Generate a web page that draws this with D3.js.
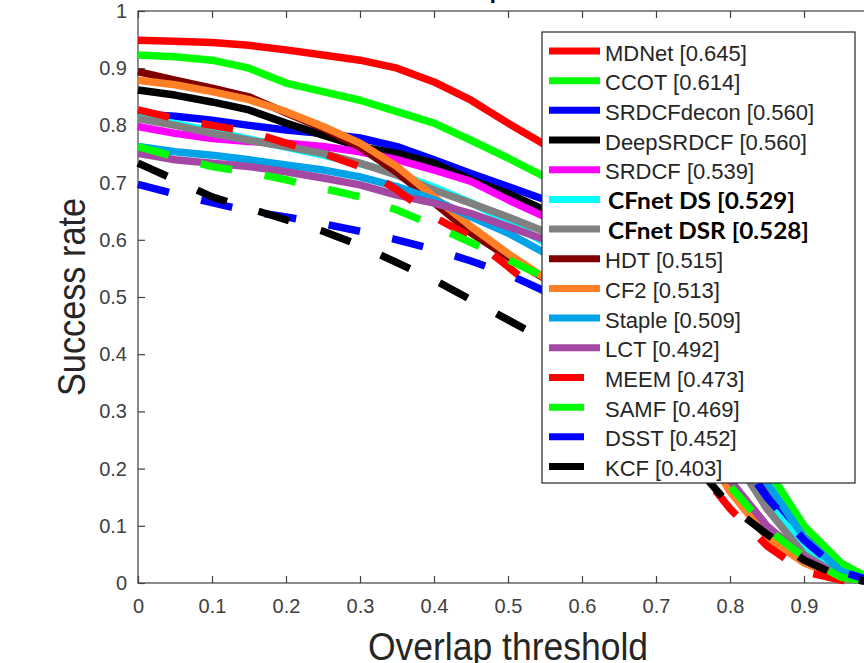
<!DOCTYPE html>
<html>
<head>
<meta charset="utf-8">
<script src="https://cdn.jsdelivr.net/npm/d3@7"></script>
<style>
  body { margin: 0; background: #fff; }
  svg { display: block; }
</style>
</head>
<body>
<svg id="chart" width="864" height="663"></svg>
<script>
// Overlap thresholds (x values)
const thresholds = [0, 0.05, 0.1, 0.15, 0.2, 0.25, 0.3, 0.35, 0.4, 0.45, 0.5,
                    0.55, 0.6, 0.65, 0.7, 0.75, 0.8, 0.85, 0.9, 0.95, 1];
const xTicks = [0, 0.1, 0.2, 0.3, 0.4, 0.5, 0.6, 0.7, 0.8, 0.9, 1];
const yTicks = [0, 0.1, 0.2, 0.3, 0.4, 0.5, 0.6, 0.7, 0.8, 0.9, 1];

// Success rate per tracker
const mdnet      = [0.949, 0.947, 0.945, 0.940, 0.932, 0.923, 0.914, 0.900, 0.876, 0.844, 0.804, 0.766, 0.700, 0.620, 0.510, 0.380, 0.270, 0.170, 0.080, 0.030, 0];
const ccot       = [0.923, 0.920, 0.914, 0.900, 0.874, 0.859, 0.844, 0.824, 0.804, 0.774, 0.743, 0.710, 0.665, 0.600, 0.510, 0.400, 0.290, 0.200, 0.100, 0.035, 0];
const srdcfdecon = [0.820, 0.816, 0.809, 0.800, 0.792, 0.786, 0.778, 0.763, 0.740, 0.716, 0.693, 0.670, 0.640, 0.580, 0.490, 0.380, 0.250, 0.150, 0.070, 0.020, 0];
const deepsrdcf  = [0.862, 0.853, 0.841, 0.827, 0.804, 0.783, 0.763, 0.751, 0.734, 0.705, 0.681, 0.652, 0.620, 0.570, 0.480, 0.370, 0.250, 0.140, 0.060, 0.015, 0];
const srdcf      = [0.798, 0.786, 0.777, 0.772, 0.769, 0.763, 0.754, 0.740, 0.722, 0.702, 0.670, 0.640, 0.600, 0.550, 0.470, 0.370, 0.240, 0.130, 0.055, 0.015, 0];
const cfnetDS    = [0.816, 0.803, 0.790, 0.776, 0.762, 0.748, 0.733, 0.716, 0.692, 0.665, 0.632, 0.595, 0.560, 0.520, 0.460, 0.370, 0.250, 0.140, 0.065, 0.020, 0];
const cfnetDSR   = [0.812, 0.800, 0.786, 0.774, 0.763, 0.751, 0.734, 0.713, 0.687, 0.664, 0.640, 0.614, 0.580, 0.530, 0.460, 0.360, 0.230, 0.130, 0.050, 0.010, 0];
const hdt        = [0.894, 0.879, 0.865, 0.850, 0.822, 0.795, 0.762, 0.718, 0.665, 0.612, 0.570, 0.532, 0.480, 0.430, 0.360, 0.270, 0.170, 0.090, 0.040, 0.010, 0];
const cf2        = [0.879, 0.871, 0.859, 0.845, 0.824, 0.798, 0.769, 0.728, 0.675, 0.623, 0.576, 0.533, 0.480, 0.430, 0.360, 0.270, 0.160, 0.080, 0.035, 0.010, 0];
const staple     = [0.763, 0.754, 0.748, 0.740, 0.731, 0.722, 0.710, 0.693, 0.670, 0.640, 0.612, 0.577, 0.540, 0.500, 0.440, 0.360, 0.260, 0.175, 0.080, 0.020, 0];
const lct        = [0.751, 0.740, 0.734, 0.728, 0.719, 0.708, 0.696, 0.678, 0.664, 0.646, 0.623, 0.600, 0.560, 0.500, 0.410, 0.300, 0.180, 0.100, 0.045, 0.010, 0];
const meem       = [0.827, 0.812, 0.800, 0.789, 0.769, 0.751, 0.728, 0.687, 0.640, 0.605, 0.553, 0.500, 0.440, 0.370, 0.290, 0.210, 0.130, 0.065, 0.020, 0.005, 0];
const samf       = [0.763, 0.745, 0.728, 0.718, 0.705, 0.690, 0.675, 0.652, 0.625, 0.595, 0.565, 0.535, 0.500, 0.450, 0.370, 0.270, 0.170, 0.095, 0.045, 0.010, 0];
const dsst       = [0.697, 0.680, 0.665, 0.650, 0.640, 0.628, 0.615, 0.600, 0.583, 0.563, 0.540, 0.510, 0.480, 0.450, 0.400, 0.330, 0.240, 0.150, 0.075, 0.020, 0];
const kcf        = [0.734, 0.705, 0.675, 0.655, 0.635, 0.615, 0.590, 0.560, 0.530, 0.495, 0.460, 0.425, 0.380, 0.330, 0.270, 0.210, 0.135, 0.085, 0.040, 0.010, 0];

const names  = ["MDNet", "CCOT", "SRDCFdecon", "DeepSRDCF", "SRDCF", "CFnet DS", "CFnet DSR",
                "HDT", "CF2", "Staple", "LCT", "MEEM", "SAMF", "DSST", "KCF"];
const scores = ["0.645", "0.614", "0.560", "0.560", "0.539", "0.529", "0.528",
                "0.515", "0.513", "0.509", "0.492", "0.473", "0.469", "0.452", "0.403"];
const values = [mdnet, ccot, srdcfdecon, deepsrdcf, srdcf, cfnetDS, cfnetDSR,
                hdt, cf2, staple, lct, meem, samf, dsst, kcf];
const colors = ["#ff0000", "#00ff00", "#0000ff", "#000000", "#ff00ff", "#00ffff", "#808080",
                "#800000", "#ff7f27", "#00a2e8", "#a349a4", "#ff0000", "#00ff00", "#0000ff", "#000000"];
const dashed = [false, false, false, false, false, false, false,
                false, false, false, false, true, true, true, true];
// the two CFnet entries are written in a different bold font
const boldWidth = [0, 0, 0, 0, 0, 187, 201, 0, 0, 0, 0, 0, 0, 0, 0];

const series = names.map((n, i) => ({
  name: n, score: scores[i], color: colors[i], dashed: dashed[i], boldWidth: boldWidth[i],
  points: thresholds.map((t, j) => ({ t: t, v: values[i][j] }))
}));

const svg = d3.select("#chart");
const axisColor = "#404040";

const x = d3.scaleLinear().domain([0, 1]).range([138, 878]);
const y = d3.scaleLinear().domain([0, 1]).range([583, 11]);

// Title (mostly above the visible area)
svg.append("text")
  .attr("x", (x(0) + x(1)) / 2)
  .attr("y", -2)
  .attr("text-anchor", "middle")
  .attr("font-family", "Liberation Sans, Arial, sans-serif")
  .attr("font-weight", "bold")
  .attr("font-size", 22)
  .attr("fill", "#000")
  .text("Success plots of OPE");

// Axes
const fmt = d => d3.format("~g")(d);

const gx = svg.append("g")
  .attr("transform", `translate(0,${y(0)})`)
  .call(d3.axisBottom(x).tickValues(xTicks).tickFormat(fmt).tickSizeInner(-7).tickSizeOuter(0).tickPadding(16));

const gxTop = svg.append("g")
  .attr("transform", `translate(0,${y(1)})`)
  .call(d3.axisTop(x).tickValues(xTicks).tickFormat("").tickSizeInner(-7).tickSizeOuter(0));

const gy = svg.append("g")
  .attr("transform", `translate(${x(0)},0)`)
  .call(d3.axisLeft(y).tickValues(yTicks).tickFormat(fmt).tickSizeInner(-7).tickSizeOuter(0).tickPadding(11));

[gx, gxTop, gy].forEach(g => {
  g.select(".domain").remove();
  g.selectAll(".tick line").attr("stroke", axisColor).attr("stroke-width", 1.2);
  g.selectAll(".tick text")
    .attr("fill", axisColor)
    .attr("font-family", "Liberation Sans, Arial, sans-serif")
    .attr("font-size", 20);
});

// Axes box
svg.append("rect")
  .attr("x", x(0))
  .attr("y", y(1))
  .attr("width", x(1) - x(0))
  .attr("height", y(0) - y(1))
  .attr("fill", "none")
  .attr("stroke", axisColor)
  .attr("stroke-width", 1.2);

// Axis labels
svg.append("text")
  .attr("x", (x(0) + x(1)) / 2)
  .attr("y", 660)
  .attr("text-anchor", "middle")
  .attr("font-family", "Liberation Sans, Arial, sans-serif")
  .attr("font-size", 38)
  .attr("textLength", 280)
  .attr("lengthAdjust", "spacingAndGlyphs")
  .attr("fill", "#262626")
  .text("Overlap threshold");

svg.append("text")
  .attr("transform", `translate(85,${(y(0) + y(1)) / 2}) rotate(-90)`)
  .attr("text-anchor", "middle")
  .attr("font-family", "Liberation Sans, Arial, sans-serif")
  .attr("font-size", 38)
  .attr("textLength", 198)
  .attr("lengthAdjust", "spacingAndGlyphs")
  .attr("fill", "#262626")
  .text("Success rate");

// Curves, legend order (later ones on top)
const line = d3.line()
  .x(d => x(d.t))
  .y(d => y(d.v));

svg.append("g")
  .selectAll("path")
  .data(series)
  .join("path")
  .attr("d", d => line(d.points))
  .attr("fill", "none")
  .attr("stroke", d => d.color)
  .attr("stroke-width", 7.5)
  .attr("stroke-linejoin", "round")
  .attr("stroke-dasharray", d => d.dashed ? "32,33" : null);

// Legend
const legend = svg.append("g").attr("class", "legend");

legend.append("rect")
  .attr("x", 542)
  .attr("y", 32)
  .attr("width", 313)
  .attr("height", 451)
  .attr("fill", "#fff")
  .attr("stroke", "#262626")
  .attr("stroke-width", 1.2);

const rowY = i => 52.5 + i * 29.68;

const item = legend.selectAll("g.item")
  .data(series)
  .join("g")
  .attr("class", "item");

item.append("line")
  .attr("x1", 549)
  .attr("x2", d => d.dashed ? 584 : 600)
  .attr("y1", (d, i) => rowY(i) - 1.5)
  .attr("y2", (d, i) => rowY(i) - 1.5)
  .attr("stroke", d => d.color)
  .attr("stroke-width", 7);

item.append("text")
  .attr("x", d => d.boldWidth ? 608 : 605)
  .attr("y", (d, i) => rowY(i) + 8)
  .attr("font-family", d => d.boldWidth ? "Lato, sans-serif" : "Liberation Sans, Arial, sans-serif")
  .attr("font-weight", d => d.boldWidth ? "bold" : "normal")
  .attr("font-size", 22)
  .attr("textLength", d => d.boldWidth || null)
  .attr("lengthAdjust", d => d.boldWidth ? "spacingAndGlyphs" : null)
  .attr("fill", d => d.boldWidth ? "#000" : "#262626")
  .text(d => `${d.name} [${d.score}]`);
</script>
